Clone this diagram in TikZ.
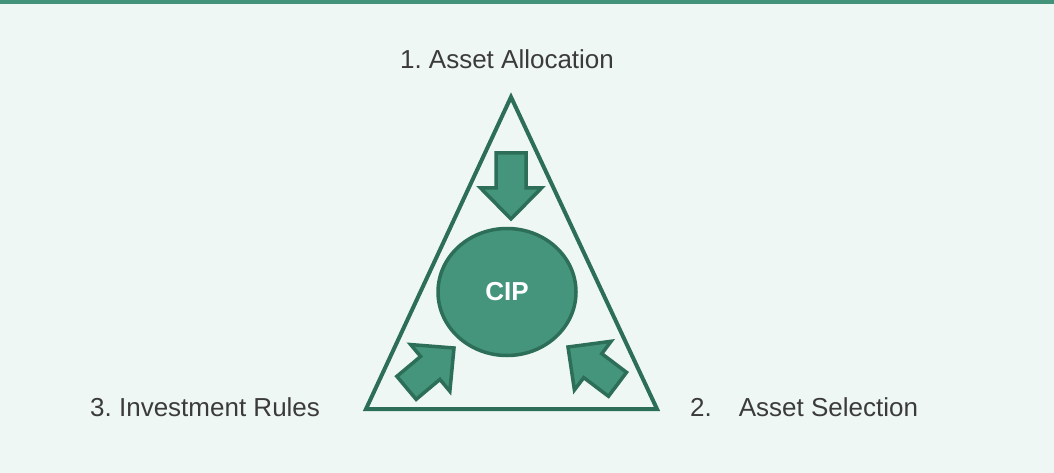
\documentclass[tikz,border=0pt]{standalone}
\usepackage{fontspec}
\setmainfont{Liberation Sans}
\usetikzlibrary{shapes.geometric}
\frenchspacing
\definecolor{pagebg}{HTML}{EEF7F3}
\definecolor{barcol}{HTML}{43937A}
\definecolor{edgecol}{HTML}{2D6E59}
\definecolor{fillcol}{HTML}{44957B}
\definecolor{labelcol}{HTML}{3B3B3B}
\tikzset{
  outline/.style={draw=edgecol, line width=4pt, line join=miter},
  blob/.style={draw=edgecol, fill=fillcol, line width=3.5pt},
  lbl/.style={text=labelcol, font=\fontsize{26}{30}\selectfont, inner sep=0pt},
  pics/pusharrow/.style={code={
    \path[blob, line join=miter]
      (0pt,0pt) -- (-31pt,30.5pt) -- (-31pt,15pt) -- (-#1,15pt)
      -- (-#1,-15pt) -- (-31pt,-15pt) -- (-31pt,-30.5pt) -- cycle;
  }},
}
\begin{document}
\begin{tikzpicture}[x=1pt, y=-1pt]
  \useasboundingbox (0,0) rectangle (1054,473);
  \fill[pagebg] (0,0) rectangle (1054,473);
  \fill[barcol] (0,0) rectangle (1054,4);

  % triangle corners
  \coordinate (apex) at (511,97);
  \coordinate (left) at (366,409);
  \coordinate (right) at (657,409);
  \draw[outline] (apex) -- (right) -- (left) -- cycle;

  % centre
  \node[blob, ellipse, minimum width=138pt, minimum height=127pt, inner sep=0pt,
        text=white, font=\fontsize{26}{30}\selectfont\bfseries] (cip) at (507,292) {CIP};

  % arrows pointing inwards
  \pic[rotate=-90] at (511,219) {pusharrow={66pt}};
  \pic[rotate=40] at (454,348) {pusharrow={62pt}};
  \pic[rotate=143] at (568,347) {pusharrow={62pt}};

  % labels
  \node[lbl, anchor=base] (top) at (507,69) {1. Asset Allocation};
  \node[lbl, anchor=base west] (rules) at (90,416) {3. Investment Rules};
  \node[lbl, anchor=base west] (sel) at (690,416) {2.\hspace{27pt}Asset Selection};
\end{tikzpicture}
\end{document}
